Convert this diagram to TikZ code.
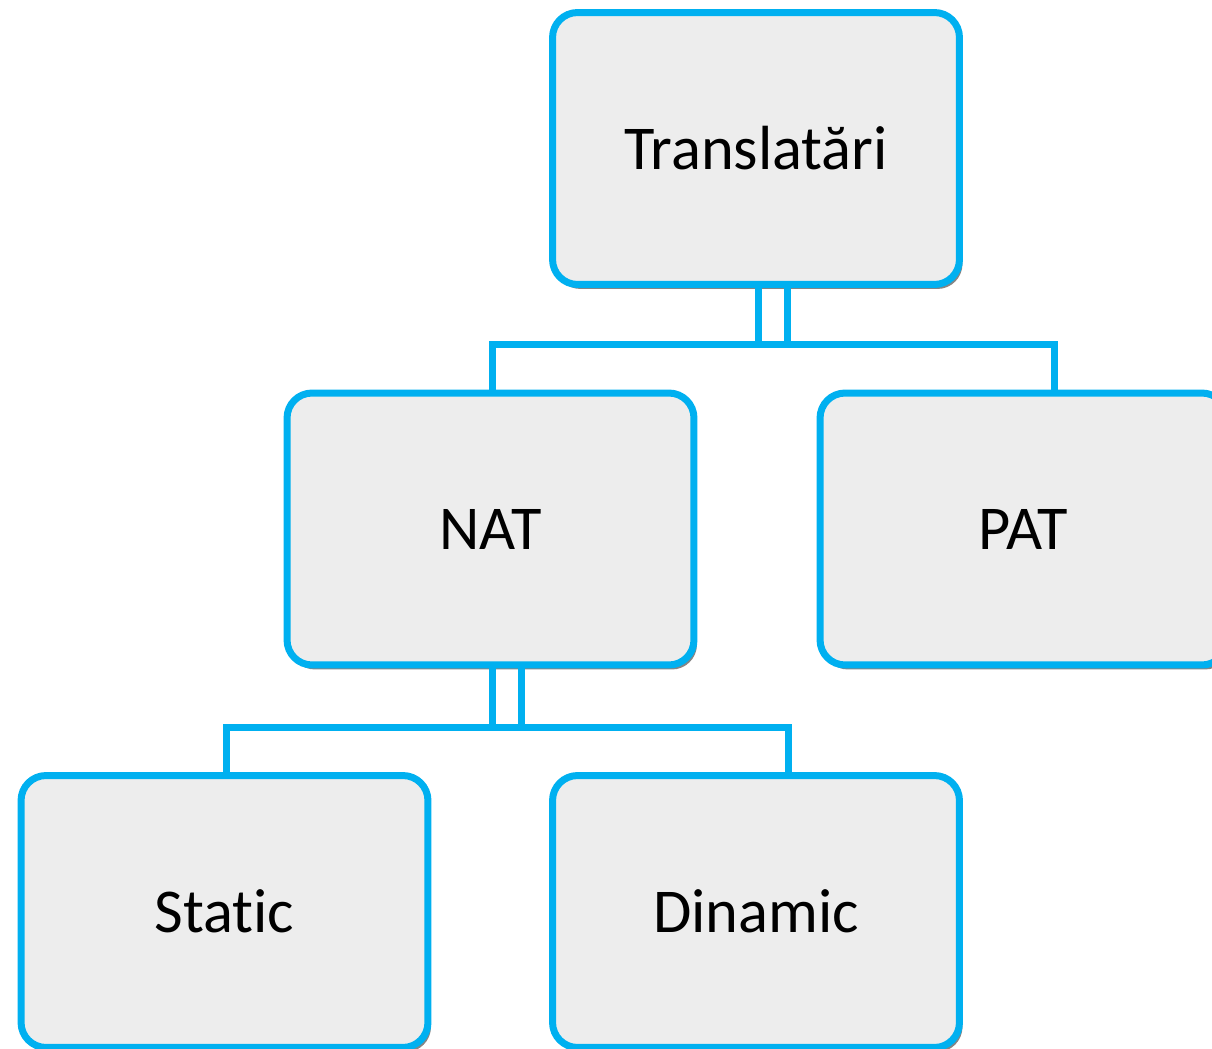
\documentclass[tikz,border=0pt]{standalone}
\usepackage{fontspec}
\setmainfont{Carlito}[Ligatures={NoCommon}]
\usepackage{xcolor}
\usetikzlibrary{calc,shadows}
\definecolor{boxcyan}{HTML}{00B0F0}
\definecolor{boxgray}{HTML}{EDEDED}

\begin{document}
\begin{tikzpicture}[x=0.02cm, y=-0.02cm,
		box/.style={shape=rectangle, draw=boxcyan, fill=boxgray, line width=0.14cm,
			rounded corners=0.5cm, minimum width=8.14cm, minimum height=5.44cm,
			font=\fontsize{35.5}{42}\selectfont,
			drop shadow={shadow xshift=0.06cm, shadow yshift=-0.09cm, opacity=0.6, fill=black!80}},
		link/.style={draw=boxcyan, line width=0.14cm, line join=miter}]
			\clip (0,0) rectangle (1212,1048);
			\coordinate (root) at (756,148.5);
			\coordinate (nat) at (490.5,529);
			\coordinate (pat) at (1023.5,529);
			\coordinate (static) at (224.5,911.5);
			\coordinate (dinamic) at (756,911.5);
			\draw node (T) at (root) [box] {Translatări}
				node (NAT) at (nat) [box] {NAT}
				node (PAT) at (pat) [box] {PAT}
				node (S) at (static) [box] {Static}
				node (D) at (dinamic) [box] {Dinamic};
			\draw[link] ($(T.south)+(31,0)$) -- ++(0,57) -| ($(NAT.north)+(1.5,0)$);
			\draw[link] ($(T.south)+(2,0)$) -- ++(0,57) -| ($(PAT.north)+(30.5,0)$);
			\draw[link] ($(NAT.south)+(30.5,0)$) -- ++(0,59) -| ($(S.north)+(1.5,0)$);
			\draw[link] ($(NAT.south)+(1.5,0)$) -- ++(0,59) -| ($(D.north)+(32,0)$);
		\end{tikzpicture}
\end{document}
